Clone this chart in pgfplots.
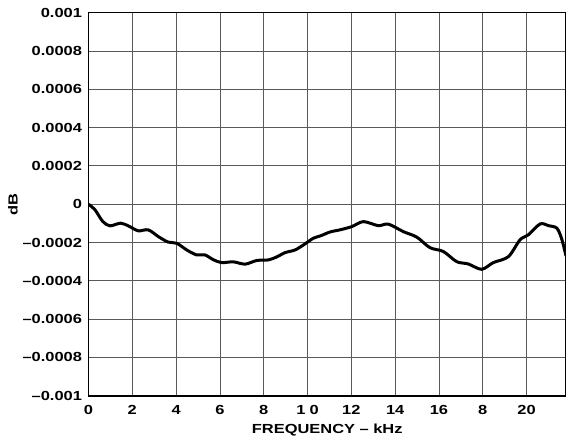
\documentclass[border=0pt]{standalone}
\usepackage{fontspec}
\setmainfont{Liberation Sans}[FakeStretch=1.25, BoldFeatures={FakeStretch=1.25}]
\usepackage{pgfplots}
\pgfplotsset{compat=1.18}

\begin{document}
\begin{tikzpicture}
\begin{axis}[
    scale only axis,
    width=477.5bp, height=383bp,
    xmin=0, xmax=21.8,
    ymin=-0.001, ymax=0.001,
    xtick={0,2,4,6,8,10,12,14,16,18,20},
    xticklabels={0,2,4,6,8,1\hspace{0.3em}0,12,14,16,8,20},
    ytick={-0.001,-0.0008,-0.0006,-0.0004,-0.0002,0,0.0002,0.0004,0.0006,0.0008,0.001},
    yticklabels={\textendash0.001,\textendash0.0008,\textendash0.0006,\textendash0.0004,\textendash0.0002,0,0.0002,0.0004,0.0006,0.0008,0.001},
    scaled y ticks=false,
    grid=major,
    major grid style={gray!70!black, line width=0.8bp},
    major tick length=0pt,
    axis line style={black, line width=1.6bp},
    tick label style={font=\fontsize{13.2}{15}\selectfont\bfseries},
    label style={font=\fontsize{13.2}{15}\selectfont\bfseries},
    xticklabel style={yshift=-6bp},
    yticklabel style={xshift=-3bp},
    xlabel={FREQUENCY \textendash\ kHz},
    ylabel={dB},
    xlabel style={yshift=-3bp},
    ylabel style={yshift=-2bp},
    clip=true,
]
\addplot[black, line width=3bp, smooth, tension=0.5] coordinates {
(0,0) (0.3,-0.00003) (0.65,-0.00009) (0.98,-0.000113) (1.47,-0.000099)
(1.85,-0.000115) (2.27,-0.000139) (2.73,-0.000134) (3.2,-0.00017)
(3.64,-0.000198) (4.03,-0.000204) (4.5,-0.00024) (4.94,-0.000265)
(5.32,-0.000265) (5.7,-0.00029) (6.08,-0.000305) (6.61,-0.000301)
(7.15,-0.000313) (7.68,-0.000294) (8.21,-0.000291) (8.6,-0.000275)
(8.97,-0.000253) (9.43,-0.000239) (9.85,-0.00021) (10.26,-0.000178)
(10.6,-0.000165) (11.03,-0.000145) (11.48,-0.000134) (12.02,-0.000117)
(12.55,-0.000091) (13.23,-0.000112) (13.69,-0.000104) (14.37,-0.000143)
(14.99,-0.000172) (15.59,-0.000227) (16.2,-0.000247) (16.81,-0.0003)
(17.34,-0.000312) (17.95,-0.00034) (18.48,-0.000305) (19.17,-0.000274)
(19.7,-0.000186) (20.08,-0.00016) (20.62,-0.000103) (21.0,-0.000112)
(21.38,-0.000125) (21.6,-0.00018) (21.8,-0.00027)
};
\end{axis}
\pgfresetboundingbox
\path (current axis.south west) ++(-88.5bp,-48.3bp) coordinate (bl);
\path (current axis.north east) ++(0,12.7bp) coordinate (tr);
\useasboundingbox (bl) rectangle (tr);
\end{tikzpicture}
\end{document}
